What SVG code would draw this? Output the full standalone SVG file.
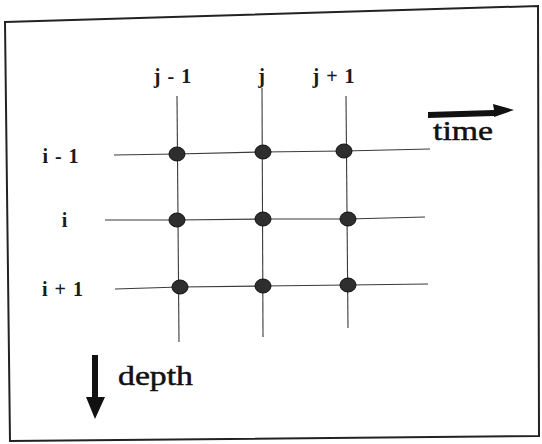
<svg xmlns="http://www.w3.org/2000/svg" width="542" height="444" viewBox="0 0 542 444">
<style>
.lbl{font-family:"Liberation Serif","DejaVu Serif",serif;font-weight:bold;font-size:20px;fill:#1a1a1a;letter-spacing:1px}
.big{font-family:"Liberation Serif","DejaVu Serif",serif;font-size:28px;fill:#111;stroke:#111;stroke-width:0.5}
.ln{stroke:#3a3a3a;stroke-width:1.1;fill:none}
.node{fill:#2e2e2e;stroke:#111;stroke-width:1}
.arr{fill:#111}
</style>
<rect x="0" y="0" width="542" height="444" fill="#fff"/>
<path d="M5,22 L538,6 L539,436 L10,441 Z" fill="none" stroke="#222" stroke-width="2"/>
<g id="connectors">
<path class="ln" d="M177,96 L179,342"/>
<path class="ln" d="M262,88 L263,337"/>
<path class="ln" d="M346,96 L348,328"/>
<path class="ln" d="M114,155 L177,154 L263,152 L344,151 L430,149"/>
<path class="ln" d="M105,220 L177,220 L263,219 L348,219 L425,217"/>
<path class="ln" d="M115,289 L180,287 L263,286 L348,285 L428,284"/>
</g>
<g id="n11"><ellipse class="node" cx="177" cy="154" rx="8" ry="7"/></g>
<g id="n12"><ellipse class="node" cx="263" cy="152" rx="8" ry="7"/></g>
<g id="n13"><ellipse class="node" cx="344" cy="151" rx="8" ry="7"/></g>
<g id="n21"><ellipse class="node" cx="177" cy="220" rx="8" ry="7"/></g>
<g id="n22"><ellipse class="node" cx="263" cy="219" rx="8" ry="7"/></g>
<g id="n23"><ellipse class="node" cx="348" cy="219" rx="8" ry="7"/></g>
<g id="n31"><ellipse class="node" cx="180" cy="287" rx="8" ry="7"/></g>
<g id="n32"><ellipse class="node" cx="263" cy="286" rx="8" ry="7"/></g>
<g id="n33"><ellipse class="node" cx="348" cy="285" rx="8" ry="7"/></g>
<g id="labels">
<text class="lbl" x="173" y="83" text-anchor="middle">j - 1</text>
<text class="lbl" x="262" y="83" text-anchor="middle">j</text>
<text class="lbl" x="334" y="83" text-anchor="middle">j + 1</text>
<text class="lbl" x="61" y="163" text-anchor="middle">i - 1</text>
<text class="lbl" x="65" y="227" text-anchor="middle">i</text>
<text class="lbl" x="63" y="296" text-anchor="middle">i + 1</text>
</g>
<g id="time">
<path class="arr" d="M428,112 L494,110 L493,104 L514,110 L494,117 L494,116 L428,118 Z"/>
<text class="big" x="433" y="140" textLength="60" lengthAdjust="spacingAndGlyphs">time</text>
</g>
<g id="depth">
<path class="arr" d="M92,355 L98,355 L98,397 L105,397 L95,419 L86,397 L92,397 Z"/>
<text class="big" x="118" y="385" textLength="75" lengthAdjust="spacingAndGlyphs">depth</text>
</g>
</svg>
